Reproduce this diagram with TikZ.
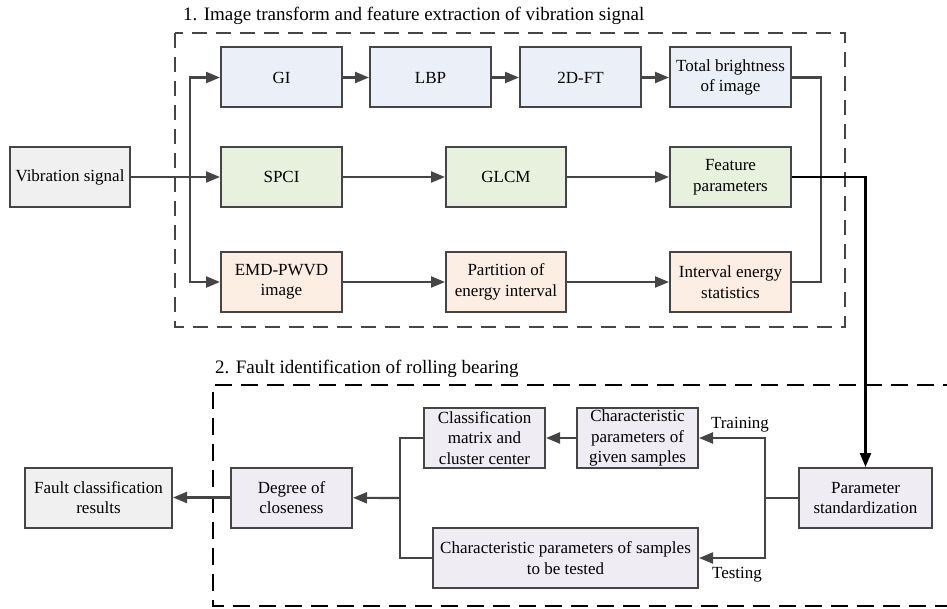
\documentclass[tikz,border=0pt]{standalone}
\usepackage{fontspec}
\setmainfont{Liberation Serif}
\usetikzlibrary{arrows.meta}
\definecolor{bord}{HTML}{454545}
\definecolor{fblue}{HTML}{EBF0F8}
\definecolor{fgreen}{HTML}{E8F0DE}
\definecolor{forange}{HTML}{FCEEE2}
\definecolor{fgray}{HTML}{F0F0F0}
\definecolor{fpurple}{HTML}{EFECF4}
\tikzset{
  box/.style={draw=bord, line width=2pt, inner sep=0pt, align=center,
    font=\fontsize{17}{20.5}\selectfont, minimum height=60pt},
  conn/.style={draw=bord, line width=2.2pt},
  arr/.style={conn, -{Triangle[length=14pt,width=11pt]}},
  lbl/.style={font=\fontsize{17}{20}\selectfont, inner sep=0pt},
  ttl/.style={font=\fontsize{19}{22}\selectfont, inner sep=0pt, anchor=west},
}
\begin{document}
\begin{tikzpicture}[x=1pt,y=-1pt]
\useasboundingbox (0,0) rectangle (947,609);
% group 1
\draw[bord, line width=2pt, dash pattern=on 15pt off 9pt] (175,33) rectangle (845,327);
\node[ttl] (t1) at (183,16) {1. Image transform and feature extraction of vibration signal};
\node[box, fill=fgray, minimum width=120pt] (vib) at (70,177) {Vibration signal};
\node[box, fill=fblue, minimum width=121pt] (gi) at (281.5,77.5) {GI};
\node[box, fill=fblue, minimum width=121pt] (lbp) at (430.5,77.5) {LBP};
\node[box, fill=fblue, minimum width=121pt] (ft) at (580.5,77.5) {2D-FT};
\node[box, fill=fblue, minimum width=121pt] (tb) at (730.5,77.5) {Total brightness\\of image};
\node[box, fill=fgreen, minimum width=121pt] (spci) at (281.5,177) {SPCI};
\node[box, fill=fgreen, minimum width=120pt] (glcm) at (506,177) {GLCM};
\node[box, fill=fgreen, minimum width=121pt] (fp) at (730.5,177) {Feature\\parameters};
\node[box, fill=forange, minimum width=121pt] (emd) at (281.5,282) {EMD-PWVD\\image};
\node[box, fill=forange, minimum width=120pt] (part) at (506,282) {Partition of\\energy interval};
\node[box, fill=forange, minimum width=121pt] (ie) at (730.5,282) {Interval energy\\statistics};
\coordinate (bx) at (190,177);
\draw[arr] (vib) -- (spci);
\draw[arr] (bx) |- (gi);
\draw[arr] (bx) |- (emd);
\draw[arr] (gi) -- (lbp);
\draw[arr] (lbp) -- (ft);
\draw[arr] (ft) -- (tb);
\draw[arr] (spci) -- (glcm);
\draw[arr] (glcm) -- (fp);
\draw[arr] (emd) -- (part);
\draw[arr] (part) -- (ie);
\coordinate (cx) at (821,177);
\draw[conn] (tb.east) -| (cx) |- (ie.east);
% group 2
\draw[black, line width=2.4pt, dash pattern=on 17pt off 9pt] (960,385) -- (213,385) -- (213,606) -- (960,606);
\node[ttl] (t2) at (215,369) {2. Fault identification of rolling bearing};
\node[box, fill=fgray, minimum width=147pt] (fault) at (98.5,497.5) {Fault classification\\results};
\node[box, fill=fpurple, minimum width=121pt] (deg) at (291.5,497.5) {Degree of\\closeness};
\node[box, fill=fpurple, minimum width=121pt] (cm) at (484.5,438) {Classification\\matrix and\\cluster center};
\node[box, fill=fpurple, minimum width=121pt] (cg) at (637.5,438) {Characteristic\\parameters of\\given samples};
\node[box, fill=fpurple, minimum width=265pt] (ct) at (565.5,558) {Characteristic parameters of samples\\to be tested};
\node[box, fill=fpurple, minimum width=133pt] (ps) at (865.5,498) {Parameter\\standardization};
\draw[line width=2.2pt, black, -{Triangle[length=14pt,width=11pt]}] (fp.east) -| (ps.north);
\coordinate (sx) at (765,498);
\draw[conn] (ps.west) -- (sx);
\draw[arr] (sx) |- (cg.east);
\draw[arr] (sx) |- (ct.east);
\draw[arr] (cg) -- (cm);
\coordinate (lx) at (400,498);
\draw[conn] (cm.west) -| (lx) |- (ct.west);
\draw[arr] (lx) -- (deg);
\draw[arr] (deg) -- (fault);
\node[lbl] (tr) at (740,425) {Training};
\node[lbl] (te) at (737,575) {Testing};
\end{tikzpicture}
\end{document}
